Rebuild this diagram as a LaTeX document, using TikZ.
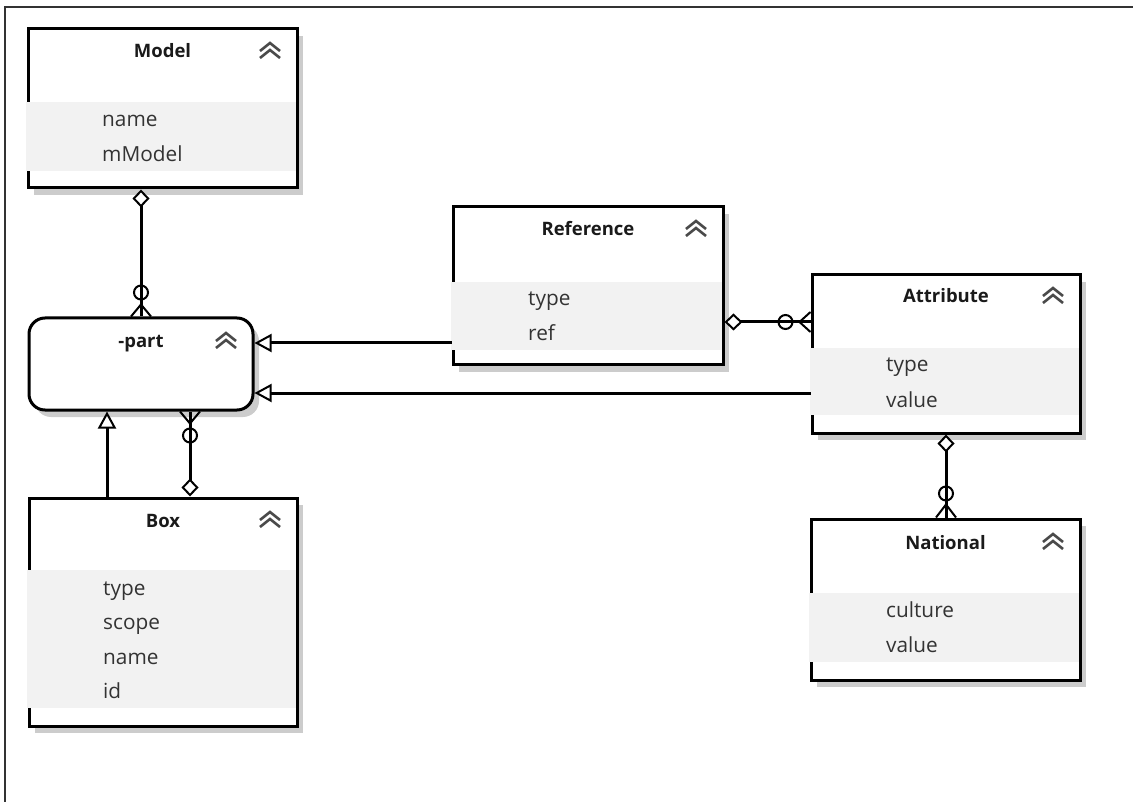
\documentclass[tikz,border=0pt]{standalone}
\usepackage{fontspec}
\setmainfont{Open Sans}
\usetikzlibrary{arrows.meta,shadows,calc}
\definecolor{bandc}{HTML}{F2F2F2}
\definecolor{itemtxt}{HTML}{333333}
\definecolor{titletxt}{HTML}{1A1A1A}
\definecolor{chevc}{HTML}{4A4A4A}
\definecolor{framec}{HTML}{333333}
\begin{document}
\begin{tikzpicture}[x=1pt,y=-1pt,
 entity/.style={draw=black, line width=3pt, fill=white, inner sep=0pt,
   drop shadow={shadow xshift=6pt, shadow yshift=-7pt, fill=black!20, opacity=1}},
 ttl/.style={anchor=base, font=\fontsize{18.5}{20}\selectfont\bfseries, text=titletxt, inner sep=0pt},
 itm/.style={anchor=base west, font=\fontsize{20.8}{22}\selectfont, text=itemtxt, inner sep=0pt},
 chev/.style={draw=chevc, line width=2.6pt},
 conn/.style={draw=black, line width=3pt},
 prong/.style={draw=black, line width=2pt},
 ring/.style={draw=black, line width=2pt},
 inh/.style={-{Triangle[open, length=17pt, width=18pt, line width=2pt]}},
 agg/.style={{Diamond[fill=white, length=18pt, width=17pt, line width=2pt]}-},
 chevs/.pic={\draw[chev] (-10,-1)--(0,-9)--(10,-1); \draw[chev] (-10,6)--(0,-2)--(10,6);}
]
\useasboundingbox (0,0) rectangle (1133,802);
\draw[framec, line width=2pt] (5,802) -- (5,7) -- (1133,7);

% Model
\node[entity, minimum width=269pt, minimum height=159pt] (model) at (162.5,108.5) {};
\fill[bandc] (26,102) rectangle (295.5,171);
\node[ttl] (modelT) at (162.5,58) {Model};
\pic at (270,52) {chevs};
\node[itm] (modelA1) at (102,127) {name};
\node[itm] (modelA2) at (102,162) {mModel};

% -part
\node[entity, rounded corners=16pt, minimum width=224pt, minimum height=92pt] (part) at (141,364) {};
\node[ttl] (partT) at (141,348) {-part};
\pic at (226,342) {chevs};

% Box
\node[entity, minimum width=268pt, minimum height=228pt] (box) at (163,612) {};
\fill[bandc] (27,570) rectangle (295.5,708);
\node[ttl] (boxT) at (163,527) {Box};
\pic at (270,521) {chevs};
\node[itm] (boxA1) at (103,595) {type};
\node[itm] (boxA2) at (103,629.5) {scope};
\node[itm] (boxA3) at (103,664) {name};
\node[itm] (boxA4) at (103,698.5) {id};

% Reference
\node[entity, minimum width=270pt, minimum height=158pt] (ref) at (588,286) {};
\fill[bandc] (451,282) rectangle (721.5,350);
\node[ttl] (refT) at (588,236) {Reference};
\pic at (696,230) {chevs};
\node[itm] (refA1) at (528,306) {type};
\node[itm] (refA2) at (528,341) {ref};

% Attribute
\node[entity, minimum width=268pt, minimum height=158pt] (attr) at (946,354) {};
\fill[bandc] (810,348) rectangle (1078.5,415);
\node[ttl] (attrT) at (946,303) {Attribute};
\pic at (1053,297) {chevs};
\node[itm] (attrA1) at (886,372) {type};
\node[itm] (attrA2) at (886,407) {value};

% National
\node[entity, minimum width=269pt, minimum height=161pt] (national) at (945.5,599.5) {};
\fill[bandc] (809,593) rectangle (1078.5,662);
\node[ttl] (natT) at (945.5,549) {National};
\pic at (1053,543) {chevs};
\node[itm] (natA1) at (886,617) {culture};
\node[itm] (natA2) at (886,652) {value};

% Model -> part
\coordinate (mp1) at (model.south -| part.north);
\draw[conn, agg] (mp1) -- (part.north);
\draw[ring] ($(part.north)+(0,-24)$) circle[radius=7pt];
\draw[prong] ($(part.north)+(-10,0)$) -- ($(part.north)+(0,-12)$) -- ($(part.north)+(10,0)$);

% Box -> part (inheritance)
\coordinate (bp1) at ([xshift=-34pt]part.south);
\draw[conn, inh] (box.north -| bp1) -- (bp1);

% Box -> part (aggregation)
\coordinate (bp2) at ([xshift=49pt]part.south);
\draw[conn, agg] (box.north -| bp2) -- (bp2);
\draw[ring] ($(bp2)+(0,24)$) circle[radius=7pt];
\draw[prong] ($(bp2)+(-10,0)$) -- ($(bp2)+(0,12)$) -- ($(bp2)+(10,0)$);

% Reference -> part
\coordinate (rp1) at ([yshift=21pt]part.east);
\draw[conn, inh] (ref.west |- rp1) -- (rp1);

% Attribute -> part
\coordinate (ap1) at ([yshift=-29pt]part.east);
\draw[conn, inh] (attr.west |- ap1) -- (ap1);

% Reference -> Attribute
\coordinate (ra1) at ([yshift=-36pt]ref.east);
\coordinate (ra2) at (attr.west |- ra1);
\draw[conn, agg] (ra1) -- (ra2);
\draw[ring] ($(ra2)+(-25,0)$) circle[radius=7pt];
\draw[prong] ($(ra2)+(0,-10)$) -- ($(ra2)+(-11,0)$) -- ($(ra2)+(0,10)$);

% Attribute -> National
\coordinate (an2) at (national.north -| attr.south);
\draw[conn, agg] (attr.south) -- (an2);
\draw[ring] ($(an2)+(0,-24)$) circle[radius=7pt];
\draw[prong] ($(an2)+(-10,0)$) -- ($(an2)+(0,-13)$) -- ($(an2)+(10,0)$);
\end{tikzpicture}
\end{document}
